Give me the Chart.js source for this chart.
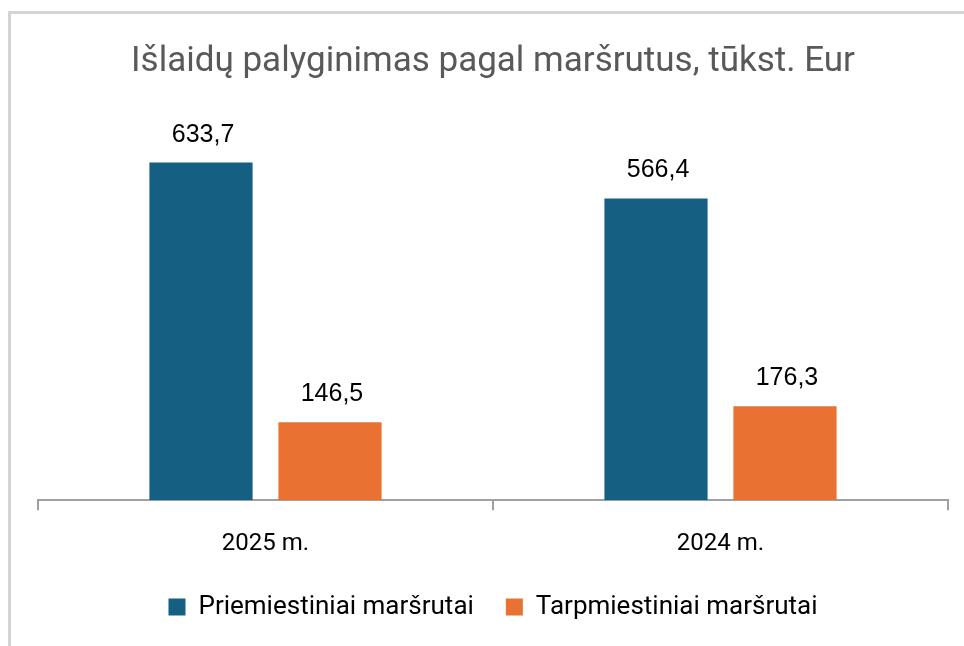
<!DOCTYPE html>
<html>
<head>
<meta charset="utf-8">
<script src="https://cdn.jsdelivr.net/npm/chart.js@4"></script>
<style>
  html, body { margin: 0; padding: 0; background: #fff; }
  #wrap { position: relative; width: 964px; height: 646px; }
</style>
</head>
<body>
<div id="wrap"><canvas id="c" width="964" height="646"></canvas></div>
<script>
// data
const categories = ['2025 m.', '2024 m.'];
const seriesNames = ['Priemiestiniai maršrutai', 'Tarpmiestiniai maršrutai'];
const priemiestiniai = [633.7, 566.4];
const tarpmiestiniai = [146.5, 176.3];
const chartTitle = 'Išlaidų palyginimas pagal maršrutus, tūkst. Eur';

const BLUE = '#156082';
const ORANGE = '#E97132';

// gray frame on the left and top edge
const framePlugin = {
  id: 'frame',
  beforeDraw(chart) {
    const ctx = chart.ctx;
    ctx.save();
    ctx.fillStyle = '#fff';
    ctx.fillRect(0, 0, chart.width, chart.height);
    ctx.fillStyle = '#d4d4d4';
    ctx.fillRect(8, 11, 3, chart.height - 11);
    ctx.fillRect(8, 11, chart.width - 8, 3);
    ctx.restore();
  }
};

// value labels above bars, comma decimal
const valueLabels = {
  id: 'valueLabels',
  afterDatasetsDraw(chart) {
    const ctx = chart.ctx;
    ctx.save();
    ctx.font = '25px "Liberation Sans", Arial, sans-serif';
    ctx.fillStyle = '#000';
    ctx.textAlign = 'center';
    ctx.textBaseline = 'alphabetic';
    chart.data.datasets.forEach((ds, i) => {
      chart.getDatasetMeta(i).data.forEach((bar, j) => {
        const txt = ds.data[j].toFixed(1).replace('.', ',');
        ctx.fillText(txt, bar.x + 2, bar.y - 21);
      });
    });
    ctx.restore();
  }
};

Chart.defaults.font.family = 'Roboto, "Noto Sans", sans-serif';

new Chart(document.getElementById('c'), {
  type: 'bar',
  data: {
    labels: categories,
    datasets: [
      { label: seriesNames[0], data: priemiestiniai, backgroundColor: BLUE },
      { label: seriesNames[1], data: tarpmiestiniai, backgroundColor: ORANGE }
    ]
  },
  options: {
    responsive: false,
    animation: false,
    categoryPercentage: 0.567,
    barPercentage: 0.8,
    layout: { padding: { left: 38, right: 16, top: 41, bottom: 16 } },
    plugins: {
      title: {
        display: true,
        text: chartTitle,
        color: '#595959',
        font: { size: 35, weight: 'normal' },
        padding: { top: 0, bottom: 25 }
      },
      legend: {
        position: 'bottom',
        labels: {
          boxWidth: 17,
          boxHeight: 17,
          color: '#000',
          font: { size: 26 },
          padding: 32
        }
      },
      tooltip: { enabled: false }
    },
    scales: {
      y: { display: false, beginAtZero: true, min: 0, max: 736 },
      x: {
        border: { display: true, color: '#a0a0a0', width: 2 },
        grid: { drawOnChartArea: false, drawTicks: true, tickLength: 10, color: '#a0a0a0', lineWidth: 2, offset: true },
        ticks: { color: '#000', font: { size: 24 }, padding: 19 },
        afterFit(scale) { scale.height -= 15; }
      }
    }
  },
  plugins: [framePlugin, valueLabels]
});
</script>
</body>
</html>
